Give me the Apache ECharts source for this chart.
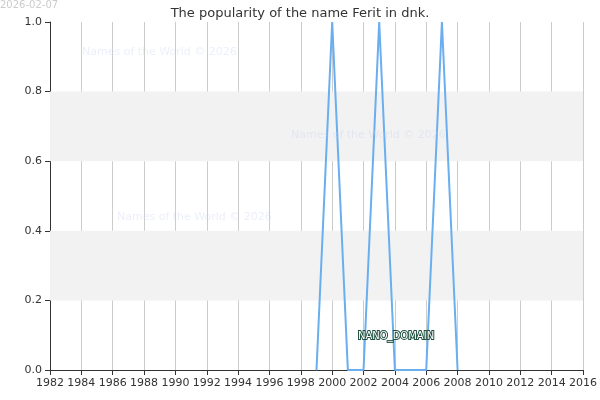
<!DOCTYPE html>
<html>
<head>
<meta charset="UTF-8" />
<style>
* { margin: 0; padding: 0; }
#chart { width: 600px; height: 400px; background: #fff; }
</style>
</head>
<body>
<div id="chart"></div>
<script src="https://cdn.jsdelivr.net/npm/echarts@6/dist/echarts.min.js"></script>
<script>
const years = [1999, 2000, 2001, 2002, 2003, 2004, 2005, 2006, 2007, 2008];
const popularity = [0, 1, 0, 0, 1, 0, 0, 0, 1, 0];
const yBands = [[0.2, 0.4], [0.6, 0.8]];

const chart = echarts.init(document.getElementById('chart'));
const wm = { fill: 'rgba(200,210,240,0.35)', fontSize: 11, fontFamily: 'DejaVu Sans' };
chart.setOption({
  animation: false,
  title: {
    text: 'The popularity of the name Ferit in dnk.',
    left: 'center', top: 2,
    textStyle: { fontSize: 13, fontWeight: 'normal', color: '#333', fontFamily: 'DejaVu Sans' }
  },
  grid: { left: 50, right: 15, top: 22, bottom: 30 },
  xAxis: {
    type: 'value', min: 1982, max: 2016, interval: 2,
    axisLine: { lineStyle: { color: '#333' } },
    axisTick: { show: true, lineStyle: { color: '#333' } },
    axisLabel: { color: '#333', fontSize: 11, fontFamily: 'DejaVu Sans', formatter: v => String(v),
      showMinLabel: true, showMaxLabel: true, hideOverlap: false },
    splitLine: { show: true, lineStyle: { color: '#ccc' } }
  },
  yAxis: {
    type: 'value', min: 0, max: 1, interval: 0.2,
    axisLine: { show: true, lineStyle: { color: '#333' } },
    axisTick: { show: true },
    axisLabel: { color: '#333', fontSize: 11, fontFamily: 'DejaVu Sans', formatter: v => v.toFixed(1) },
    splitLine: { show: false }
  },
  series: [{
    type: 'line',
    data: years.map((y, i) => [y, popularity[i]]),
    showSymbol: false,
    lineStyle: { color: '#6aaef0', width: 2 },
    markArea: {
      silent: true,
      itemStyle: { color: '#f2f2f2' },
      data: yBands.map(b => [{ yAxis: b[0] }, { yAxis: b[1] }])
    },
    z: 3
  }],
  graphic: [
    { type: 'text', left: 0, top: 0, style: { text: '2026-02-07', fill: '#ccc', fontSize: 10, fontFamily: 'DejaVu Sans' } },
    { type: 'text', left: 82, top: 47, z: 10, style: Object.assign({ text: 'Names of the World © 2026' }, wm) },
    { type: 'text', left: 291, top: 130, z: 10, style: Object.assign({ text: 'Names of the World © 2026' }, wm) },
    { type: 'text', left: 117, top: 212, z: 10, style: Object.assign({ text: 'Names of the World © 2026' }, wm) },
    { type: 'text', left: 357, top: 330, z: 10, style: { text: 'NANO_DOMAIN', fill: '#fff', stroke: '#1f4f3f', lineWidth: 2, fontSize: 10, fontFamily: 'DejaVu Sans' } }
  ]
});
</script>
</body>
</html>
